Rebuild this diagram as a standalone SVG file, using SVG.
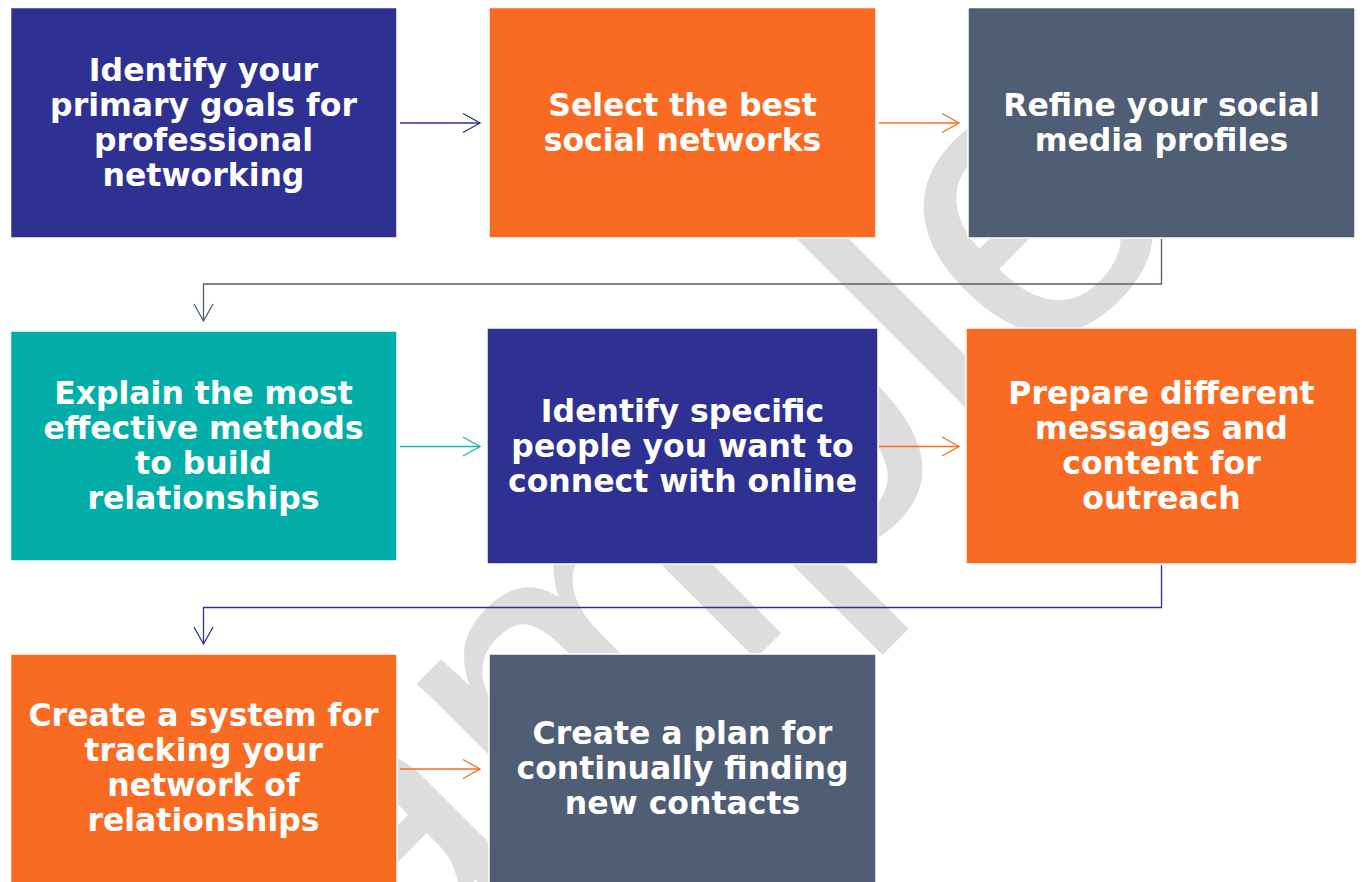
<svg xmlns="http://www.w3.org/2000/svg" width="1362" height="882" viewBox="0 0 1362 882">
<style>
.box{stroke:#ffffff;stroke-width:1.5}
.navy{fill:#2e3192}.orange{fill:#f96b22}.slate{fill:#4f5e74}.teal{fill:#04aea8}
.lbl{font-family:"DejaVu Sans",Verdana,sans-serif;font-weight:bold;font-size:31.5px;fill:#ffffff;text-anchor:middle}
.wm{font-family:"Liberation Sans",Arial,sans-serif;font-size:420px;fill:#dddddd}
.cn{fill:none;stroke-width:1.3}
</style>
<defs>
<marker id="mNavy" markerUnits="userSpaceOnUse" markerWidth="24" markerHeight="24" viewBox="-20 -12 24 24" refX="0" refY="0" orient="auto"><path d="M-17,-9.5 L0,0 L-17,9.5" fill="none" stroke="#2e3192" stroke-width="1.3"/></marker>
<marker id="mOrange" markerUnits="userSpaceOnUse" markerWidth="24" markerHeight="24" viewBox="-20 -12 24 24" refX="0" refY="0" orient="auto"><path d="M-17,-9.5 L0,0 L-17,9.5" fill="none" stroke="#f96b22" stroke-width="1.3"/></marker>
<marker id="mTeal" markerUnits="userSpaceOnUse" markerWidth="24" markerHeight="24" viewBox="-20 -12 24 24" refX="0" refY="0" orient="auto"><path d="M-17,-9.5 L0,0 L-17,9.5" fill="none" stroke="#19b8b2" stroke-width="1.3"/></marker>
<marker id="mSlate" markerUnits="userSpaceOnUse" markerWidth="24" markerHeight="24" viewBox="-20 -12 24 24" refX="0" refY="0" orient="auto"><path d="M-17,-9.5 L0,0 L-17,9.5" fill="none" stroke="#4f5e74" stroke-width="1.3"/></marker>
</defs>
<rect width="1362" height="882" fill="#ffffff"/>
<text class="wm" transform="rotate(-45)" x="-731" y="1000">Sample</text>

<g id="n1"><rect class="box navy" x="10.5" y="7.5" width="386.5" height="230.5"/>
<text class="lbl"><tspan x="203.5" y="81">Identify your</tspan><tspan x="203.5" y="116">primary goals for</tspan><tspan x="203.5" y="151">professional</tspan><tspan x="203.5" y="186">networking</tspan></text></g>
<g id="n2"><rect class="box orange" x="489" y="7.5" width="387" height="230.5"/>
<text class="lbl"><tspan x="682.5" y="116">Select the best</tspan><tspan x="682.5" y="151">social networks</tspan></text></g>
<g id="n3"><rect class="box slate" x="968" y="7.5" width="387" height="230.5"/>
<text class="lbl"><tspan x="1161.5" y="116">Refine your social</tspan><tspan x="1161.5" y="151">media profiles</tspan></text></g>

<g id="n4"><rect class="box teal" x="10.5" y="331" width="386.5" height="230"/>
<text class="lbl"><tspan x="203.5" y="404">Explain the most</tspan><tspan x="203.5" y="439">effective methods</tspan><tspan x="203.5" y="474">to build</tspan><tspan x="203.5" y="509">relationships</tspan></text></g>
<g id="n5"><rect class="box navy" x="487" y="328" width="391" height="236"/>
<text class="lbl"><tspan x="682.5" y="421.5">Identify specific</tspan><tspan x="682.5" y="456.5">people you want to</tspan><tspan x="682.5" y="491.5">connect with online</tspan></text></g>
<g id="n6"><rect class="box orange" x="966" y="328" width="391" height="236"/>
<text class="lbl"><tspan x="1161.5" y="404">Prepare different</tspan><tspan x="1161.5" y="439">messages and</tspan><tspan x="1161.5" y="474">content for</tspan><tspan x="1161.5" y="509">outreach</tspan></text></g>

<g id="n7"><rect class="box orange" x="10.5" y="654" width="386.5" height="230"/>
<text class="lbl"><tspan x="203.5" y="726">Create a system for</tspan><tspan x="203.5" y="761">tracking your</tspan><tspan x="203.5" y="796">network of</tspan><tspan x="203.5" y="831">relationships</tspan></text></g>
<g id="n8"><rect class="box slate" x="489" y="654" width="387" height="230"/>
<text class="lbl"><tspan x="682.5" y="743.5">Create a plan for</tspan><tspan x="682.5" y="778.5">continually finding</tspan><tspan x="682.5" y="813.5">new contacts</tspan></text></g>

<g id="connectors">
<path class="cn" d="M400,123 H480" stroke="#2e3192" marker-end="url(#mNavy)"/>
<path class="cn" d="M879,123 H959" stroke="#f96b22" marker-end="url(#mOrange)"/>
<path class="cn" d="M1161.5,239 V284 H203.5 V321" stroke="#4f5e74" marker-end="url(#mSlate)"/>
<path class="cn" d="M400,446.5 H480" stroke="#19b8b2" marker-end="url(#mTeal)"/>
<path class="cn" d="M879,446.5 H959" stroke="#f96b22" marker-end="url(#mOrange)"/>
<path class="cn" d="M1161.5,565 V607.5 H203.5 V644" stroke="#2e3192" marker-end="url(#mNavy)"/>
<path class="cn" d="M400,769 H480" stroke="#f96b22" marker-end="url(#mOrange)"/>
</g>
</svg>
